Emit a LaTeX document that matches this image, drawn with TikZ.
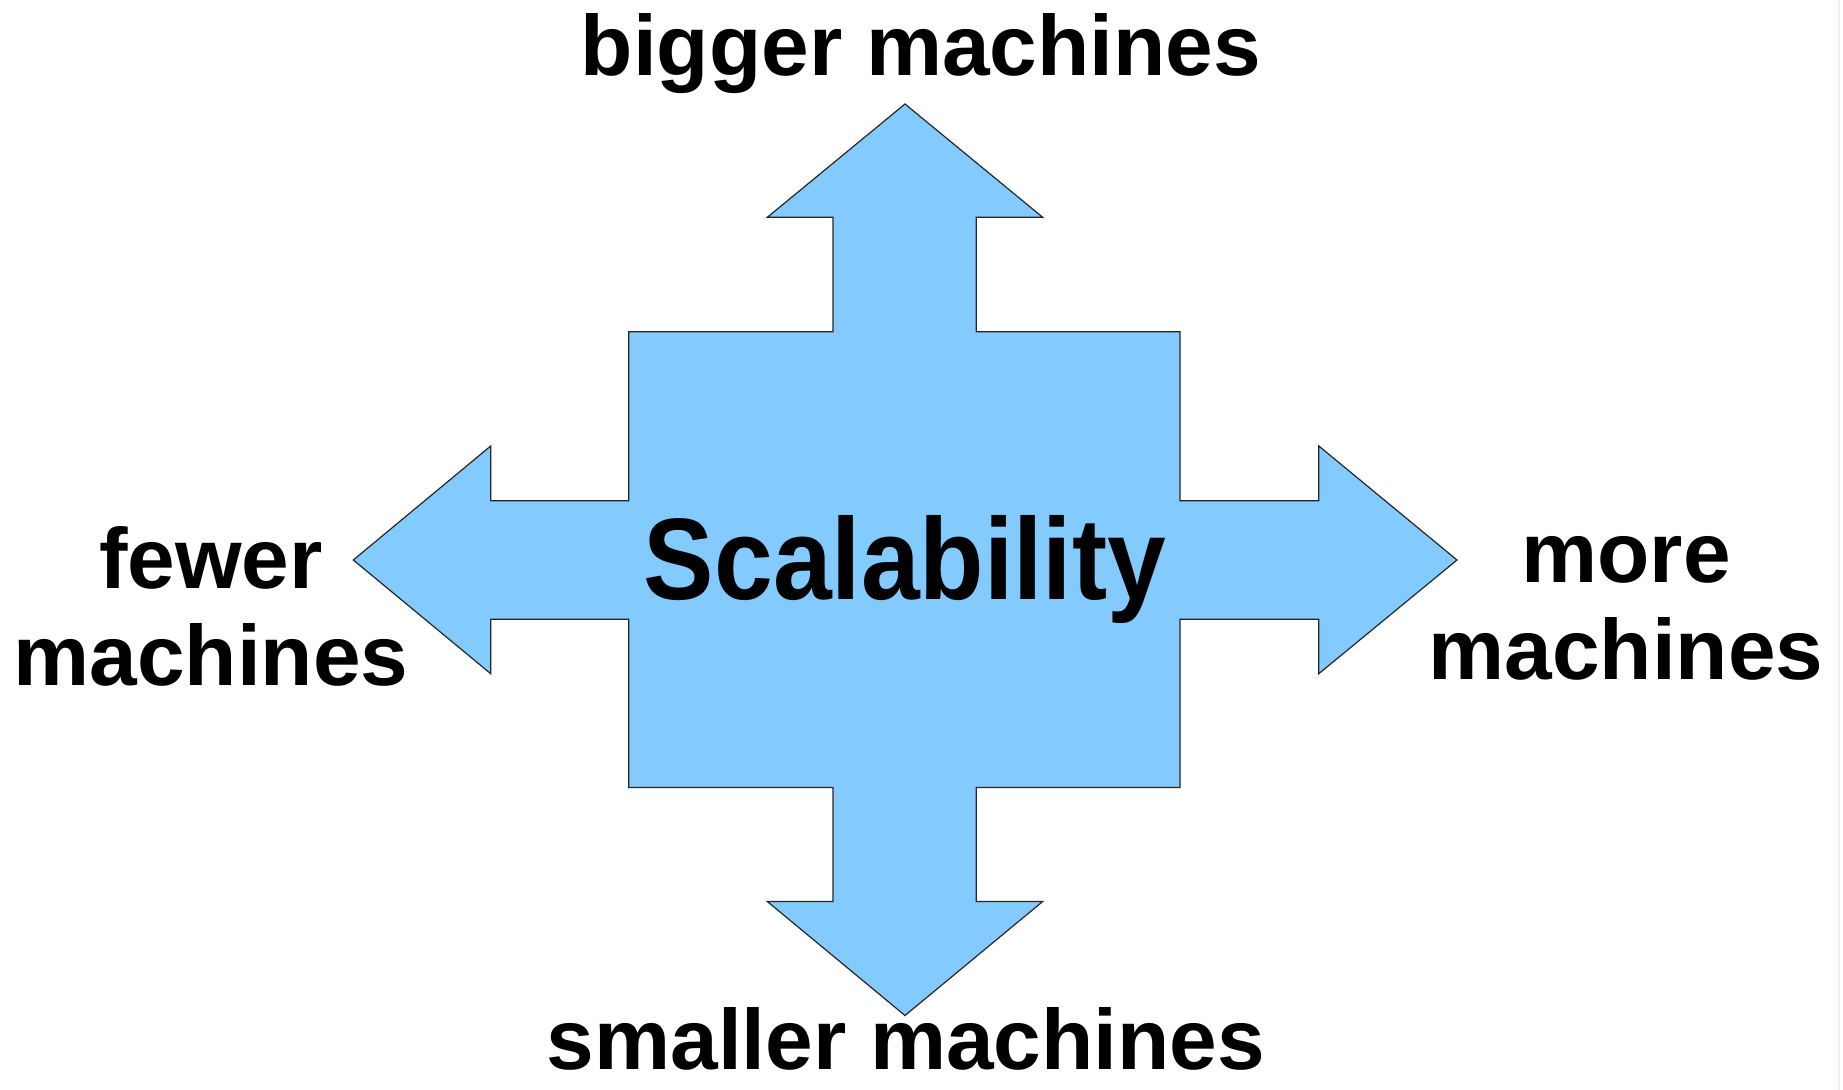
\documentclass[tikz,border=0pt]{standalone}
\usepackage{fontspec}
\setmainfont{Liberation Sans}
\usepackage{graphicx}
\definecolor{arrowblue}{HTML}{83CAFF}
\definecolor{edgeline}{HTML}{E6F4FA}
\tikzset{
  shapefill/.style={fill=arrowblue, draw=black!85, line width=0.6pt, line join=miter},
  lbl/.style={font=\bfseries\fontsize{42.8}{48.5}\selectfont, inner sep=0pt, align=center, text=black},
  title/.style={font=\bfseries\fontsize{58}{66}\selectfont, inner sep=0pt, text=black}
}
\begin{document}
\begin{tikzpicture}[x=0.5pt,y=-0.5pt]
\useasboundingbox (0,0) rectangle (1843,1090);
\fill[white] (0,0) rectangle (1843,1090);
\draw[edgeline, line width=1pt] (1839,0) -- (1839,1090);
% cross-shaped four-way arrow
\draw[shapefill]
  (905,104) -- (1042.7,217.3) -- (976.3,217.3) -- (976.3,331.7) -- (1180,331.7)
  -- (1180,500.7) -- (1318.8,500.7) -- (1318.8,446) -- (1457,560) -- (1318.8,673.7)
  -- (1318.8,619.3) -- (1180,619.3) -- (1180,787.5) -- (976.3,787.5) -- (976.3,901.5)
  -- (1042.7,901.5) -- (905,1015.5) -- (767.3,901.5) -- (833,901.5) -- (833,787.5)
  -- (628.7,787.5) -- (628.7,619.3) -- (490.7,619.3) -- (490.7,673.7) -- (353.3,560)
  -- (490.7,446) -- (490.7,500.7) -- (628.7,500.7) -- (628.7,331.7) -- (833,331.7)
  -- (833,217.3) -- (767.3,217.3) -- cycle;
\node[title, anchor=base] (scal) at (905,600) {\scalebox{0.91}[1]{Scalability}};
\node[lbl, anchor=base] (bigger) at (921,76) {bigger machines};
\node[lbl, anchor=base, text depth=0pt] (smaller) at (906,1069) {smaller machines};
\node[lbl, anchor=base] (fewer) at (211,686) {fewer\\machines};
\node[lbl, anchor=base] (more) at (1626,680) {more\\machines};
\end{tikzpicture}
\end{document}
